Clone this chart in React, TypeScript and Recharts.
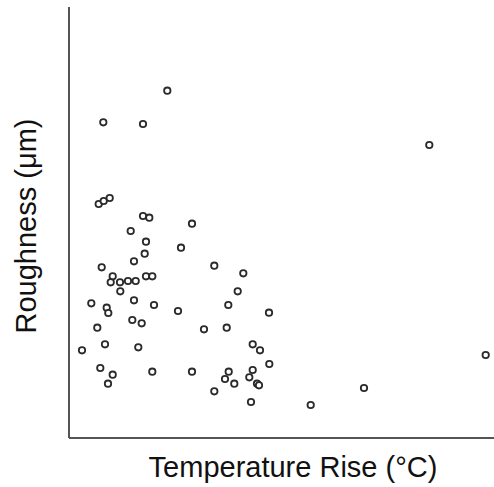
import { ScatterChart, Scatter, XAxis, YAxis, Label } from 'recharts';

// values (arbitrary units, no ticks shown)
const tempRise = [
  34.3, 74, 98.3, 360.3, 29.7, 34.7, 40.7, 74, 80.3, 123,
  61.7, 77, 112, 75.7, 65, 32.7, 145.3, 43.7, 41.7, 51,
  59, 66.7, 77, 83.3, 174.3, 51.3, 168.7, 22.3, 37.7, 39.3,
  65, 85, 109, 159.3, 200, 63.3, 72.7, 28.3, 135, 157.7,
  36, 69.3, 13, 183.7, 191, 31.3, 43.7, 39, 83.3, 123,
  159.7, 156, 165.3, 183.7, 180.3, 188, 190, 200.3, 145.3, 182,
  241.7, 295, 416.7,
];
const roughness = [
  315.7, 314, 347.3, 293, 234, 237, 240, 222, 220.3, 214.3,
  207, 196.3, 190.3, 184.3, 176.7, 170.7, 172.3, 161.7, 155.7, 155.7,
  157, 157, 161.7, 161.7, 164.7, 146.7, 146.7, 134.7, 130.3, 125,
  137.7, 133, 127, 133, 125.3, 118, 114.7, 110.3, 108.7, 110.3,
  93.7, 90.7, 87.7, 93.7, 87.7, 70, 63.3, 54.3, 66.3, 66.3,
  66.3, 59, 54.3, 68, 60.7, 54.3, 52.7, 74, 46.7, 36,
  33, 50, 83,
];

const data = tempRise.map((t, i) => ({ t, r: roughness[i] }));

const font = 'Arial, "Liberation Sans", sans-serif';
const axisColor = '#555';

const Ring = (props: any) => (
  <circle cx={props.cx} cy={props.cy} r={3.2} fill="#fff" stroke="#2a2a2a" strokeWidth={1.8} />
);

export default function App() {
  return (
    <div style={{ position: 'absolute', left: 0, top: 0, background: '#fff' }}>
      <ScatterChart width={494} height={487} margin={{ top: 7, right: 0, bottom: 0, left: 0 }}>
        <XAxis
          type="number"
          dataKey="t"
          domain={[0, 425]}
          tick={false}
          tickLine={false}
          height={49}
          axisLine={{ stroke: axisColor, strokeWidth: 2 }}
        >
          <Label
            content={() => (
              <text x={293} y={477} textAnchor="middle" fontFamily={font} fontSize={29} fill="#111">
                Temperature Rise (°C)
              </text>
            )}
          />
        </XAxis>
        <YAxis
          type="number"
          dataKey="r"
          domain={[0, 431]}
          tick={false}
          tickLine={false}
          width={69}
          axisLine={{ stroke: axisColor, strokeWidth: 2 }}
        >
          <Label
            content={() => (
              <text
                x={36}
                y={226}
                textAnchor="middle"
                transform="rotate(-90 36 226)"
                fontFamily={font}
                fontSize={29}
                fill="#111"
              >
                Roughness (μm)
              </text>
            )}
          />
        </YAxis>
        <Scatter data={data} shape={Ring} isAnimationActive={false} />
      </ScatterChart>
    </div>
  );
}
